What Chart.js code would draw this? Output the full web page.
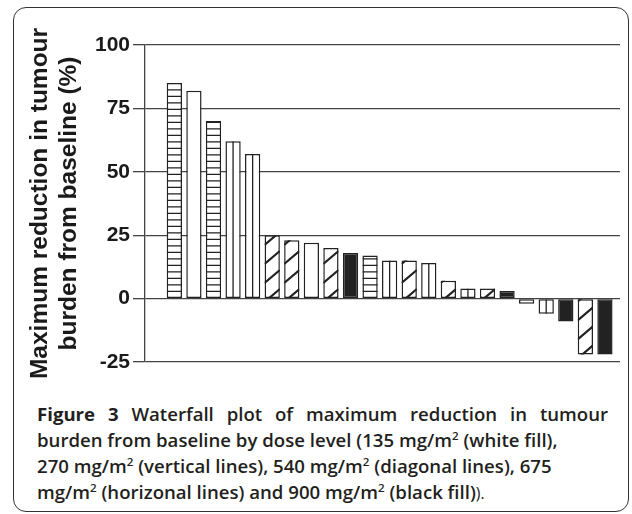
<!DOCTYPE html>
<html>
<head>
<meta charset="utf-8">
<script src="https://cdn.jsdelivr.net/npm/chart.js@4.4.0/dist/chart.umd.min.js"></script>
<style>
  html, body { margin: 0; padding: 0; background: #fff; }
  body { width: 632px; height: 514px; position: relative; overflow: hidden; }
  .frame { position: absolute; left: 13px; top: 7px; width: 614px; height: 503px;
           border: 1.5px solid #333; border-radius: 13px; }
  #chartBox { position: absolute; left: 0; top: 0; width: 632px; height: 390px; }
  .cap { position: absolute; left: 37px; top: 401px; width: 571px;
         font-family: "Open Sans", sans-serif; font-weight: 600; font-size: 18.6px;
         line-height: 26px; color: #231f20; white-space: nowrap; }
  .cap .l1 { display: block; text-align: justify; text-align-last: justify; }
  .cap b { font-weight: 700; }
  .cap sup { font-size: 0.62em; line-height: 0; vertical-align: 0.6em; }
  .cap .lite { font-weight: 400; font-size: 0.85em; }
</style>
</head>
<body>
<div class="frame"></div>
<div id="chartBox"><canvas id="waterfall" width="632" height="390"></canvas></div>
<div class="cap">
  <span class="l1"><b>Figure 3</b> Waterfall plot of maximum reduction in tumour</span>
  burden from baseline by dose level (135 mg/m<sup>2</sup> (white fill),<br>
  270 mg/m<sup>2</sup> (vertical lines), 540 mg/m<sup>2</sup> (diagonal lines), 675<br>
  mg/m<sup>2</sup> (horizonal lines) and 900 mg/m<sup>2</sup> (black fill)<span class="lite">).</span>
</div>
<script>
// one bar per patient, ordered by response
const patients = ["1","2","3","4","5","6","7","8","9","10","11","12","13","14","15","16","17","18","19","20","21","22","23"];
const reduction = [85, 82, 70, 62, 57, 25, 23, 22, 20, 18, 17, 15, 15, 14, 7, 4, 4, 3, -2, -6, -9, -22, -22];
// dose level (mg/m2) of each patient
const doseLevel = [675, 135, 675, 270, 270, 540, 540, 135, 540, 900, 675, 270, 540, 270, 540, 270, 540, 900, 135, 270, 900, 540, 900];
const yTicks = [-25, 0, 25, 50, 75, 100];

const fillFor = { 135: "white", 270: "vertical", 540: "diagonal", 675: "horizontal", 900: "black" };
const INK = "#222";

// draws the hatching inside each bar, using the bar elements laid out by Chart.js
const hatchPlugin = {
  id: "hatch",
  afterDatasetsDraw(chart) {
    const ctx = chart.ctx;
    const meta = chart.getDatasetMeta(0);
    meta.data.forEach((bar, i) => {
      const kind = fillFor[doseLevel[i]];
      if (kind === "white" || kind === "black") return;
      const p = bar.getProps(["x", "y", "base", "width"], true);
      const left = p.x - p.width / 2, right = p.x + p.width / 2;
      const top = Math.min(p.y, p.base), bottom = Math.max(p.y, p.base);
      ctx.save();
      ctx.beginPath();
      ctx.rect(left, top, right - left, bottom - top);
      ctx.clip();
      ctx.strokeStyle = INK;
      ctx.beginPath();
      if (kind === "horizontal") {
        ctx.lineWidth = 1.3;
        for (let yy = bottom - 6.5; yy > top; yy -= 6.5) {
          ctx.moveTo(left, yy);
          ctx.lineTo(right, yy);
        }
      } else if (kind === "vertical") {
        ctx.lineWidth = 1.3;
        ctx.moveTo(p.x, top);
        ctx.lineTo(p.x, bottom);
      } else {
        ctx.lineWidth = 2.2;
        const rise = p.width * 0.85;
        for (let yy = bottom + 4; yy > top - 20; yy -= 19) {
          ctx.moveTo(left, yy);
          ctx.lineTo(right, yy - rise);
        }
      }
      ctx.stroke();
      ctx.restore();
    });
  }
};

// two-line rotated axis title
const yTitlePlugin = {
  id: "yTitle",
  afterDraw(chart) {
    const ctx = chart.ctx;
    const area = chart.chartArea;
    const cy = (area.top + area.bottom) / 2;
    ctx.save();
    ctx.fillStyle = "#1a1a1a";
    ctx.font = "bold 24.5px 'Liberation Sans', Arial, sans-serif";
    ctx.textAlign = "center";
    ctx.textBaseline = "alphabetic";
    [["Maximum reduction in tumour", 47], ["burden from baseline (%)", 76]].forEach(([txt, x]) => {
      ctx.save();
      ctx.translate(x, cy);
      ctx.rotate(-Math.PI / 2);
      ctx.fillText(txt, 0, 0);
      ctx.restore();
    });
    ctx.restore();
  }
};

const ctx = document.getElementById("waterfall").getContext("2d");

new Chart(ctx, {
  type: "bar",
  data: {
    datasets: [{
      label: "Maximum reduction",
      data: reduction.map((v, i) => ({ x: i, y: v })),
      backgroundColor: doseLevel.map(d => fillFor[d] === "black" ? INK : "#fff"),
      borderColor: INK,
      borderWidth: 1.5,
      borderSkipped: false,
      barPercentage: 0.78,
      categoryPercentage: 1
    }]
  },
  plugins: [hatchPlugin, yTitlePlugin],
  options: {
    responsive: false,
    animation: false,
    layout: { padding: { left: 0, top: 45, right: 12, bottom: 28 } },
    plugins: { legend: { display: false }, tooltip: { enabled: false } },
    scales: {
      x: {
        type: "linear",
        min: -1.5,
        max: 22.77,
        offset: false,
        display: false
      },
      y: {
        min: -25,
        max: 100,
        afterFit: s => { s.width = 145; },
        afterBuildTicks: s => { s.ticks = yTicks.map(v => ({ value: v })); },
        ticks: {
          padding: 3,
          color: "#1a1a1a",
          font: { family: "'Liberation Sans', Arial, sans-serif", size: 21, weight: "bold" }
        },
        grid: { color: "#444", lineWidth: 1.3, tickLength: 12 },
        border: { color: "#444", width: 1.3 }
      }
    }
  }
});
</script>
</body>
</html>
